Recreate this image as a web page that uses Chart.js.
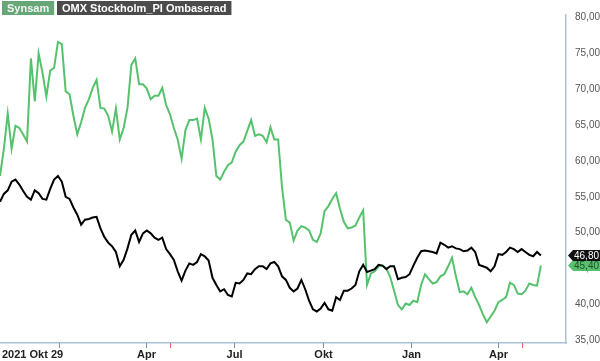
<!DOCTYPE html>
<html>
<head>
<meta charset="utf-8">
<script src="https://cdn.jsdelivr.net/npm/chart.js@4.4.1/dist/chart.umd.min.js"></script>
<style>
  html, body { margin: 0; padding: 0; background: #ffffff; }
  #wrap { position: relative; width: 600px; height: 361px; }
</style>
</head>
<body>
<div id="wrap"><canvas id="c" width="600" height="361"></canvas></div>
<script>
// ---- data (sampled every 4 days starting 2021-11-01) ----
const originDate = '2021-10-29';
const firstSampleDate = '2021-11-01';
const sampleStepDays = 4;

const seriesNames = ['Synsam', 'OMX Stockholm_PI Ombaserad'];

const synsam = [
  57.9, 61.7, 66.6, 61.7, 64.9, 64.6, 63.7, 62.7, 74.3, 68.3,
  75.0, 72.3, 69.0, 72.6, 73.0, 76.6, 76.3, 69.7, 69.3, 66.3,
  63.7, 65.4, 67.4, 68.6, 70.2, 71.3, 67.4, 67.3, 66.3, 64.1,
  67.3, 63.0, 64.6, 67.4, 73.4, 74.3, 70.7, 70.7, 70.1, 68.6,
  69.1, 69.1, 70.2, 67.8, 66.5, 64.6, 63.0, 60.3, 64.3, 65.7,
  65.7, 65.9, 63.0, 67.4, 65.9, 63.0, 57.9, 57.4, 58.5, 59.4,
  59.8, 61.3, 62.2, 62.7, 64.2, 65.7, 63.5, 63.7, 63.5, 62.6,
  64.7, 63.0, 63.0, 56.3, 51.8, 51.4, 48.9, 50.3, 50.9, 50.7,
  50.3, 49.0, 48.7, 49.9, 53.0, 53.7, 54.7, 55.5, 53.3, 51.5,
  50.6, 50.7, 51.0, 52.1, 53.1, 42.7, 44.3, 44.6, 45.3, 45.4,
  45.0, 43.8, 41.9, 39.9, 39.3, 40.1, 39.9, 40.5, 40.3, 42.7,
  44.2, 43.5, 42.9, 43.1, 43.9, 44.2, 45.3, 46.5, 43.9, 41.7,
  41.8, 41.4, 42.3, 41.0, 39.9, 38.6, 37.5, 38.3, 39.1, 40.3,
  40.6, 41.0, 43.0, 42.7, 41.5, 41.4, 41.9, 42.9, 42.7, 42.6,
  45.4
];

const omx = [
  54.3, 55.4, 55.9, 57.1, 57.4, 56.7, 55.8, 55.0, 54.6, 55.9,
  55.5, 54.7, 54.6, 56.1, 57.4, 57.9, 57.1, 55.0, 54.7, 53.5,
  52.5, 51.1, 51.8, 51.9, 52.1, 52.2, 50.6, 49.4, 48.6, 48.1,
  47.3, 45.3, 46.2, 47.8, 49.7, 50.3, 48.7, 49.9, 50.3, 49.9,
  49.3, 49.0, 49.3, 47.7, 47.0, 46.2, 44.6, 43.3, 44.7, 45.7,
  45.5, 45.9, 47.0, 46.7, 46.1, 43.7, 42.7, 41.8, 42.1, 41.3,
  41.1, 43.0, 42.9, 43.4, 44.3, 44.2, 44.9, 45.3, 45.3, 44.9,
  45.7, 45.9, 45.3, 43.9, 43.4, 42.3, 41.8, 42.2, 43.4, 42.1,
  40.5, 39.3, 39.0, 39.4, 40.2, 39.3, 39.1, 41.0, 40.6, 41.9,
  41.9, 42.2, 42.7, 44.6, 45.5, 44.5, 44.7, 44.9, 45.5, 45.4,
  44.9, 45.3, 45.3, 43.5, 43.7, 43.8, 44.2, 45.4, 46.5, 47.4,
  47.5, 47.4, 47.3, 47.1, 48.6, 48.3, 47.9, 48.1, 47.8, 47.7,
  47.4, 47.5, 47.9, 47.3, 45.5, 45.3, 45.1, 44.6, 45.3, 47.0,
  46.9, 47.3, 47.9, 47.7, 47.3, 47.7, 47.3, 46.9, 46.7, 47.3,
  46.8
];

const yTickValues = [35, 40, 45, 50, 55, 60, 65, 70, 75, 80];
const xTickDates = ['2022-01-01', '2022-04-01', '2022-07-01', '2022-10-01', '2023-01-01', '2023-04-01'];
const xTickLabels = ['', 'Apr', 'Jul', 'Okt', 'Jan', 'Apr'];
const startLabel = '2021 Okt 29';
const markerDates = ['2022-04-26', '2023-04-25'];

// ---- helpers ----
const DAY = 86400000;
function dayOf(s) { return (Date.parse(s + 'T00:00:00Z') - Date.parse(originDate + 'T00:00:00Z')) / DAY; }
const firstDay = dayOf(firstSampleDate);
function toPoints(arr) { return arr.map((v, i) => ({ x: firstDay + i * sampleStepDays, y: v })); }
function fmt(v) { return v.toFixed(2).replace('.', ','); }

const GREEN = '#56c26d';
const AXIS = '#a9c3d5';
const FONT = '"Liberation Sans", Arial, sans-serif';

const overlay = {
  id: 'overlay',
  afterDraw(chart) {
    const ctx = chart.ctx;
    const xs = chart.scales.x, ys = chart.scales.y;
    const area = chart.chartArea;
    ctx.save();
    // x tick marks
    xTickDates.forEach((d, i) => {
      const px = Math.round(xs.getPixelForValue(dayOf(d))) + 0.5;
      ctx.strokeStyle = '#6d96b2';
      ctx.lineWidth = 1;
      ctx.beginPath(); ctx.moveTo(px, area.bottom); ctx.lineTo(px, area.bottom + 5); ctx.stroke();
      if (xTickLabels[i]) {
        ctx.font = 'bold 11px ' + FONT;
        ctx.fillStyle = '#222';
        ctx.textAlign = 'center';
        ctx.textBaseline = 'middle';
        ctx.fillText(xTickLabels[i], px, 355);
      }
    });
    markerDates.forEach(d => {
      const px = Math.round(xs.getPixelForValue(dayOf(d))) + 0.5;
      ctx.strokeStyle = '#f06060';
      ctx.lineWidth = 1;
      ctx.beginPath(); ctx.moveTo(px, area.bottom); ctx.lineTo(px, area.bottom + 5); ctx.stroke();
    });
    ctx.font = 'bold 11px ' + FONT;
    ctx.fillStyle = '#222';
    ctx.textAlign = 'left';
    ctx.textBaseline = 'middle';
    ctx.fillText(startLabel, 2, 355);

    // legend boxes
    ctx.font = 'bold 11px ' + FONT;
    const boxes = [
      { text: seriesNames[0], bg: '#67a677', fg: '#f4f4f4', x: 2 },
      { text: seriesNames[1], bg: '#4b4b4b', fg: '#ffffff', x: 57 }
    ];
    boxes.forEach(b => {
      const w = ctx.measureText(b.text).width + 10;
      ctx.fillStyle = b.bg;
      ctx.fillRect(b.x, 1, w, 14);
      ctx.fillStyle = b.fg;
      ctx.textAlign = 'left';
      ctx.textBaseline = 'middle';
      ctx.fillText(b.text, b.x + 5, 8.5);
    });

    // value tags
    const tags = [
      { v: synsam[synsam.length - 1], bg: GREEN, fg: '#2d4a33' },
      { v: omx[omx.length - 1], bg: '#111111', fg: '#ffffff' }
    ];
    tags.forEach(t => {
      const py = ys.getPixelForValue(t.v);
      const h = 11, x0 = area.right + 2, x1 = 600;
      ctx.fillStyle = t.bg;
      ctx.beginPath();
      ctx.moveTo(x0, py);
      ctx.lineTo(x0 + 5, py - h / 2);
      ctx.lineTo(x1, py - h / 2);
      ctx.lineTo(x1, py + h / 2);
      ctx.lineTo(x0 + 5, py + h / 2);
      ctx.closePath();
      ctx.fill();
      ctx.fillStyle = t.fg;
      ctx.font = '10px ' + FONT;
      ctx.textAlign = 'left';
      ctx.textBaseline = 'middle';
      ctx.fillText(fmt(t.v), x0 + 6, py + 0.5);
    });
    ctx.restore();
  }
};

new Chart(document.getElementById('c'), {
  type: 'line',
  data: {
    datasets: [
      { label: seriesNames[0], data: toPoints(synsam), borderColor: GREEN, borderWidth: 2, pointRadius: 0, tension: 0, order: 2 },
      { label: seriesNames[1], data: toPoints(omx), borderColor: '#000000', borderWidth: 2, pointRadius: 0, tension: 0, order: 1 }
    ]
  },
  options: {
    responsive: false,
    animation: false,
    layout: { padding: 0 },
    plugins: { legend: { display: false }, tooltip: { enabled: false } },
    scales: {
      x: {
        type: 'linear',
        min: 3,
        max: 589,
        grid: { display: false, drawTicks: false },
        ticks: { display: false },
        border: { display: true, color: AXIS, width: 1.5 },
        afterFit(axis) { axis.height = 18; }
      },
      y: {
        position: 'right',
        min: 34.6,
        max: 80.36,
        grid: { display: false, drawTicks: false },
        border: { display: true, color: AXIS, width: 1.5 },
        afterBuildTicks(axis) { axis.ticks = yTickValues.map(v => ({ value: v })); },
        ticks: {
          padding: 9,
          color: '#555555',
          font: { family: FONT, size: 10 },
          callback: v => fmt(v)
        },
        afterFit(axis) { axis.width = 34; }
      }
    }
  },
  plugins: [overlay]
});
</script>
</body>
</html>
